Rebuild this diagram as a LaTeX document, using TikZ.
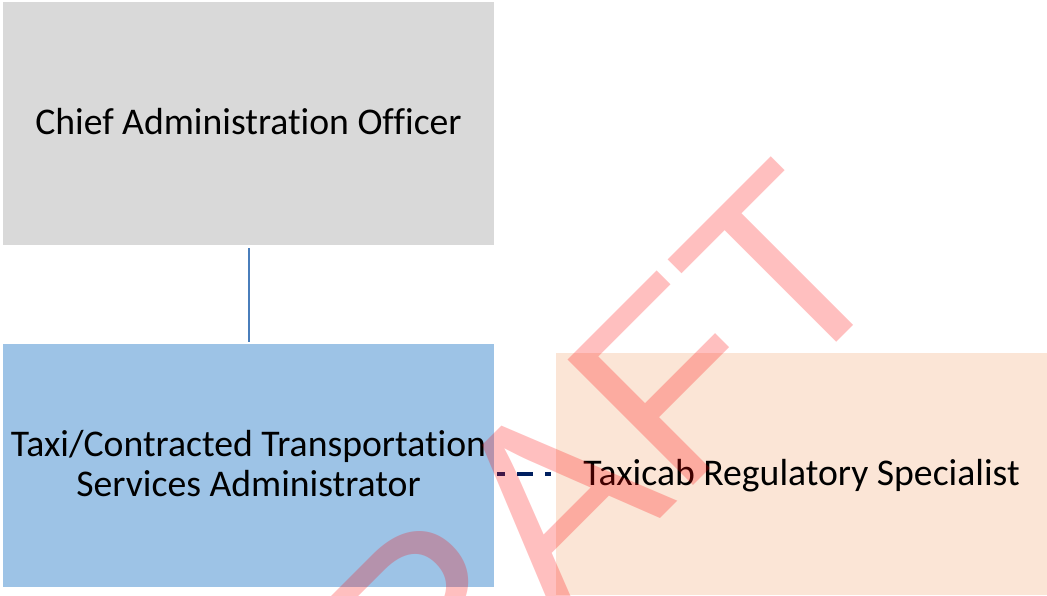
\documentclass[tikz,border=0pt]{standalone}
\usepackage{fontspec}
\setmainfont{Carlito}[RawFeature={-liga;-dlig;-clig}]
\newfontfamily\wmfont{Liberation Sans}
\definecolor{boxgray}{HTML}{D9D9D9}
\definecolor{boxblue}{HTML}{9DC3E6}
\definecolor{boxpeach}{HTML}{FBE5D6}
\definecolor{linkblue}{HTML}{4A7EBB}
\definecolor{navy}{RGB}{0,32,96}
\begin{document}
\begin{tikzpicture}[x=1pt,y=1pt,
  orgbox/.style={draw=none, inner sep=0pt, minimum width=491pt, minimum height=243pt,
    align=center, font=\fontsize{37.7}{40.7}\selectfont, text=black,
    text height=28.2pt, text depth=6.2pt},
  solidlink/.style={draw=linkblue, line width=2pt},
  dashlink/.style={draw=navy, line width=3.3pt, dash pattern=on 8pt off 12pt on 16pt off 12pt on 6pt off 30pt},
  wmark/.style={inner sep=0pt, text=red, text opacity=0.25, font=\wmfont\fontsize{258}{258}\selectfont}
]
\useasboundingbox (0,0) rectangle (1047,595);
\node[orgbox, fill=boxgray] (cao) at (248.5,471.5) {Chief Administration Officer};
\node[orgbox, fill=boxblue, text height=68.9pt] (tcsa) at (248.5,129.5) {Taxi/Contracted Transportation\\Services Administrator};
\node[orgbox, fill=boxpeach, minimum height=242pt] (trs) at (801.5,121) {Taxicab Regulatory Specialist};
\draw[solidlink] ([yshift=-3pt]cao.south) -- ([yshift=2pt]tcsa.north);
\draw[dashlink] ([xshift=3pt]tcsa.east |- trs.west) -- (trs.west);
\node[wmark, rotate=45, anchor=base west] (wm) at (293,-291) {DRAFT};
\end{tikzpicture}
\end{document}
